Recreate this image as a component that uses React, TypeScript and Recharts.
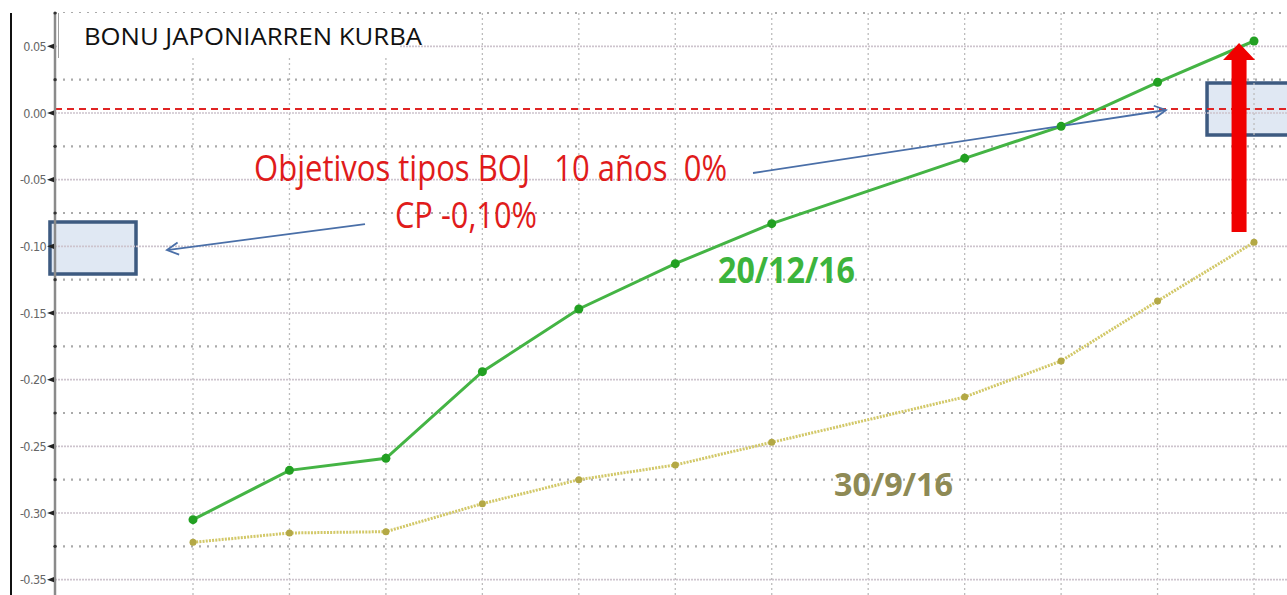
import React from "react";
import { LineChart, Line, XAxis, YAxis, ReferenceLine, ReferenceArea, ReferenceDot } from "recharts";

// Maturity slots (equally spaced positions on the curve chart)
const gridPositions = [1, 2, 3, 4, 5, 6, 7, 8, 9, 10, 11, 12];
const pointPositions = [1, 2, 3, 4, 5, 6, 7, 9, 10, 11, 12];
// Yields (%)
const yield20Dec16 = [-0.305, -0.268, -0.259, -0.194, -0.147, -0.113, -0.083, -0.034, -0.01, 0.023, 0.054];
const yield30Sep16 = [-0.322, -0.315, -0.314, -0.293, -0.275, -0.264, -0.247, -0.213, -0.186, -0.141, -0.097];
// Axis ticks
const majorTicks = [0.05, 0, -0.05, -0.1, -0.15, -0.2, -0.25, -0.3, -0.35];
const minorTicks = [0.075, 0.025, -0.025, -0.075, -0.125, -0.175, -0.225, -0.275, -0.325];
const bojTarget = 0.003;

const X_DOMAIN: [number, number] = [-0.4308, 12.342];
const Y_DOMAIN: [number, number] = [-0.3615, 0.075];

const data = pointPositions.map((p, i) => ({ pos: p, dec: yield20Dec16[i], sep: yield30Sep16[i] }));

const isMajor = (v: number) => majorTicks.some((m) => Math.abs(m - v) < 1e-9);

const YTick = (props: any) => {
  const { x, y, payload } = props;
  const v = payload.value;
  if (!isMajor(v)) {
    return <circle cx={x} cy={y} r={1.6} fill="#333" />;
  }
  return (
    <g>
      <text
        x={x - 9}
        y={y}
        dy={4.5}
        textAnchor="end"
        fontSize={12.5}
        fill="#666"
        fontFamily="'DejaVu Sans Condensed', 'Liberation Sans Narrow', 'Liberation Sans', sans-serif"
        letterSpacing={-0.6}
      >
        {v.toFixed(2)}
      </text>
      <path d={`M ${x - 8} ${y} L ${x - 1} ${y - 2.6} L ${x - 1} ${y + 2.6} Z`} fill="#222" />
    </g>
  );
};

const thinArrow = (p: any) => {
  const { x1, y1, x2, y2 } = p;
  const a = Math.atan2(y2 - y1, x2 - x1);
  const L = 13;
  const s = Math.PI / 6.5;
  const hx1 = x2 - L * Math.cos(a - s);
  const hy1 = y2 - L * Math.sin(a - s);
  const hx2 = x2 - L * Math.cos(a + s);
  const hy2 = y2 - L * Math.sin(a + s);
  return (
    <g>
      <line x1={x1} y1={y1} x2={x2} y2={y2} stroke="#4a6fa8" strokeWidth={1.8} />
      <polyline points={`${hx1},${hy1} ${x2},${y2} ${hx2},${hy2}`} fill="none" stroke="#4a6fa8" strokeWidth={1.8} />
    </g>
  );
};

const bigArrow = (p: any) => {
  const { x1, y1, x2, y2 } = p;
  const cx = (x1 + x2) / 2;
  const sw = 7.5;
  const hw = 16;
  const hl = 17;
  const yb = Math.max(y1, y2);
  const yt = Math.min(y1, y2);
  const d = `M ${cx - sw} ${yb} L ${cx - sw} ${yt + hl} L ${cx - hw} ${yt + hl} L ${cx} ${yt} L ${cx + hw} ${yt + hl} L ${cx + sw} ${yt + hl} L ${cx + sw} ${yb} Z`;
  return <path d={d} fill="#f00000" />;
};

const textShape = (txt: string, len: number, size: number, color: string, weight: number | string) => (p: any) => (
  <text
    x={p.cx}
    y={p.cy}
    fontSize={size}
    fill={color}
    fontWeight={weight}
    fontFamily="'Open Sans', 'Liberation Sans', sans-serif"
    textLength={len}
    lengthAdjust="spacingAndGlyphs"
    style={{ whiteSpace: "pre" }}
  >
    {txt}
  </text>
);

export default function App() {
  return (
    <div style={{ position: "absolute", left: 0, top: 0, width: 1287, height: 595, background: "#fff", overflow: "hidden" }}>
      <LineChart width={1287} height={595} data={data} margin={{ top: 13, right: 0, bottom: 0, left: 0 }}>
        <XAxis dataKey="pos" type="number" domain={X_DOMAIN} allowDataOverflow hide />
        <YAxis
          type="number"
          domain={Y_DOMAIN}
          allowDataOverflow
          ticks={[...majorTicks, ...minorTicks]}
          interval={0}
          width={55}
          tickSize={0}
          tickMargin={0}
          tickLine={false}
          axisLine={{ stroke: "#8a8a8a", strokeWidth: 2.5 }}
          tick={<YTick />}
        />
        {gridPositions.map((g) => (
          <ReferenceLine key={`vx${g}`} x={g} stroke="#bcbcbc" strokeWidth={1.3} strokeDasharray="2 3" />
        ))}
        {minorTicks.map((t) => (
          <ReferenceLine key={`mn${t}`} y={t} stroke="#aaaaaa" strokeWidth={2.2} strokeDasharray="2 6" />
        ))}
        {majorTicks.map((t) => (
          <ReferenceLine key={`mj${t}`} y={t} stroke="#cdc4cd" strokeWidth={1.6} strokeDasharray="2 1" />
        ))}
        <ReferenceLine y={bojTarget} stroke="#e02424" strokeWidth={1.8} strokeDasharray="7 5" />
        <ReferenceArea
          x1={-0.483}
          x2={0.409}
          y1={-0.0818}
          y2={-0.1208}
          ifOverflow="visible"
          fill="#d6e0ef"
          fillOpacity={0.75}
          stroke="#3d5a80"
          strokeWidth={3.5}
          strokeOpacity={1}
        />
        <ReferenceArea
          x1={11.513}
          x2={12.6}
          y1={0.0225}
          y2={-0.0165}
          ifOverflow="visible"
          fill="#d6e0ef"
          fillOpacity={0.75}
          stroke="#3d5a80"
          strokeWidth={3.5}
          strokeOpacity={1}
        />
        <Line
          type="linear"
          dataKey="sep"
          stroke="#d2c868"
          strokeWidth={3}
          strokeDasharray="2 1.2"
          dot={{ r: 3.5, fill: "#b3a845", stroke: "#b3a845", strokeWidth: 0 }}
          activeDot={false}
          isAnimationActive={false}
        />
        <Line
          type="linear"
          dataKey="dec"
          stroke="#44b444"
          strokeWidth={3}
          dot={{ r: 4.5, fill: "#22a022", stroke: "#22a022", strokeWidth: 0 }}
          activeDot={false}
          isAnimationActive={false}
        />
        <ReferenceLine segment={[{ x: 2.783, y: -0.0833 }, { x: 0.73, y: -0.1028 }]} shape={thinArrow} />
        <ReferenceLine segment={[{ x: 6.806, y: -0.045 }, { x: 11.088, y: 0.00225 }]} shape={thinArrow} />
        <ReferenceDot
          x={1.633}
          y={-0.051}
          r={0}
          shape={textShape("Objetivos tipos BOJ   10 años  0%", 473, 36, "#e01b1b", 400)}
        />
        <ReferenceDot x={3.094} y={-0.0863} r={0} shape={textShape("CP -0,10%", 142, 36, "#e01b1b", 400)} />
        <ReferenceDot x={6.443} y={-0.1275} r={0} shape={textShape("20/12/16", 137, 35, "#3cb43c", 700)} />
        <ReferenceDot x={7.646} y={-0.2873} r={0} shape={textShape("30/9/16", 119, 33, "#8e8a55", 700)} />
        <ReferenceLine segment={[{ x: 11.845, y: -0.0893 }, { x: 11.845, y: 0.0525 }]} shape={bigArrow} />
      </LineChart>
      <div style={{ position: "absolute", left: 10, top: 13, width: 2, height: 582, background: "#111" }} />
      <div
        style={{
          position: "absolute",
          left: 58,
          top: 13,
          width: 340,
          height: 45,
          background: "#fff",
          borderLeft: "1px solid #a0a0a0",
          overflow: "visible",
        }}
      >
        <svg width={380} height={46} style={{ display: "block", overflow: "visible" }}>
          <text
            x={25}
            y={32}
            fontSize={23.5}
            fill="#111"
            fontFamily="'Open Sans', 'Liberation Sans', sans-serif"
            textLength={338}
            lengthAdjust="spacingAndGlyphs"
          >
            BONU JAPONIARREN KURBA
          </text>
        </svg>
      </div>
    </div>
  );
}
